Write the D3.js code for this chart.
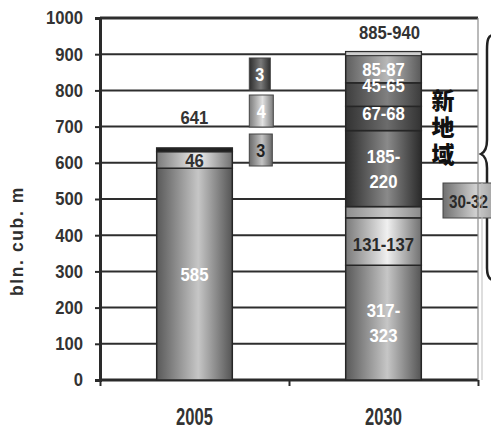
<!DOCTYPE html>
<html>
<head>
<meta charset="utf-8">
<script src="https://cdn.jsdelivr.net/npm/d3@7"></script>
<style>
  html, body { margin: 0; padding: 0; background: #fff; }
  svg { display: block; }
  text { font-family: "Liberation Sans", Arial, sans-serif; font-weight: bold; }
</style>
</head>
<body>
<script>
// Gas volumes, bln. cub. m — stacked by source
const categories = ["2005", "2030"];
const yTicks = [0, 100, 200, 300, 400, 500, 600, 700, 800, 900, 1000];

// 2005 stack, bottom to top
const values2005 = [585, 46, 10];
const labels2005 = ["585", "46", ""];
// 2030 stack, bottom to top (ranges drawn at a value inside each range)
const values2030 = [317, 131, 31, 210, 67, 65, 86];
const labels2030 = ["317-\n323", "131-137", "", "185-\n220", "67-68", "45-65", "85-87"];

const totals = ["641", "885-940"];
// breakdown of the dark 2005 cap (top to bottom)
const capParts = ["3", "4", "3"];
const sideLabel = "30-32";
const regionLabel = "新地域";
const yTitle = "bln. cub. m";

const W = 491, H = 430;
const M = { left: 100, right: 478, top: 18, bottom: 380 };

const svg = d3.select("body").append("svg").attr("width", W).attr("height", H);
const defs = svg.append("defs");

function grad(id, edge, mid, edge2) {
  const g = defs.append("linearGradient").attr("id", id)
    .attr("x1", 0).attr("x2", 1).attr("y1", 0).attr("y2", 0);
  g.append("stop").attr("offset", "0%").attr("stop-color", edge);
  g.append("stop").attr("offset", "55%").attr("stop-color", mid);
  g.append("stop").attr("offset", "100%").attr("stop-color", edge2 || edge);
}
grad("gMid", "#595959", "#c6c6c6", "#555");
grad("gLight", "#7a7a7a", "#f0f0f0", "#707070");
grad("gCap", "#1c1c1c", "#2a2a2a");
grad("gBand", "#8e8e8e", "#c9c9c9", "#8a8a8a");
grad("gDark1", "#2c2c2c", "#8a8a8a", "#2a2a2a");
grad("gDark2", "#333", "#6c6c6c", "#333");
grad("gDark3", "#3e3e3e", "#808080", "#3c3c3c");
grad("gTop", "#5e5e5e", "#b8b8b8", "#5a5a5a");
grad("gBoxDark", "#2e2e2e", "#7a7a7a", "#2e2e2e");
grad("gBoxLight", "#7c7c7c", "#e2e2e2", "#7c7c7c");
grad("gBoxMid", "#6a6a6a", "#c4c4c4", "#666");
grad("gBoxSide", "#707070", "#d0d0d0", "#8a8a8a");

const fills2005 = ["url(#gMid)", "url(#gLight)", "url(#gCap)"];
const fills2030 = ["url(#gMid)", "url(#gLight)", "url(#gBand)", "url(#gDark1)", "url(#gDark2)", "url(#gDark3)", "url(#gTop)"];
const textCol2005 = ["#fff", "#333", "#fff"];
const textCol2030 = ["#fff", "#2a2a2a", "#333", "#fff", "#fff", "#fff", "#fff"];
const labelNudge2030 = [0, 3, 0, 0, -5, -9, 2];

const y = d3.scaleLinear().domain([0, 1000]).range([M.bottom, M.top]);
const x = d3.scalePoint().domain(categories).range([M.left, M.right]).padding(0.5);
const barW = x.step() * 0.4;

// condensed bold label: horizontally squeezed around its anchor point
function label(g, px, py, str, size, sx, fill, anchor) {
  return g.append("text")
    .attr("transform", `translate(${px},${py}) scale(${sx},1)`)
    .attr("dy", "0.36em").attr("text-anchor", anchor || "middle")
    .attr("fill", fill).style("font-size", size + "px").text(str);
}

// gridlines
svg.append("g").selectAll("line").data(yTicks.filter(d => d > 0)).join("line")
  .attr("x1", M.left).attr("x2", M.right)
  .attr("y1", d => y(d)).attr("y2", d => y(d))
  .attr("stroke", "#2e2e2e").attr("stroke-width", d => d === 1000 ? 3 : 2);

// y axis
const yAxis = d3.axisLeft(y).tickValues(yTicks).tickFormat(d3.format("d")).tickSize(5).tickPadding(12);
const gy = svg.append("g").attr("transform", `translate(${M.left},0)`).call(yAxis);
gy.select(".domain").attr("stroke", "#2a2a2a").attr("stroke-width", 3);
gy.selectAll(".tick line").attr("stroke", "#2a2a2a").attr("stroke-width", 2);
gy.selectAll(".tick text").attr("fill", "#333").style("font-size", "18.5px")
  .attr("x", -17 / 0.9).attr("transform", "scale(0.9,1)");

// x axis
const xEdges = d3.scaleLinear().domain([0, 2]).range([M.left, M.right]);
const gx = svg.append("g").attr("transform", `translate(0,${M.bottom})`)
  .call(d3.axisBottom(xEdges).tickValues([0, 1, 2]).tickSize(6).tickFormat(""));
gx.select(".domain").attr("stroke", "#2a2a2a").attr("stroke-width", 3).attr("d", `M${M.left},0H${M.right}`);
gx.selectAll(".tick line").attr("stroke", "#2a2a2a").attr("stroke-width", 2);
const gxl = svg.append("g");
categories.forEach(c => label(gxl, x(c), 417, c, 23, 0.72, "#333"));

// y title
svg.append("text").attr("transform", "translate(23,241) rotate(-90)")
  .attr("text-anchor", "middle").attr("fill", "#2e2e2e")
  .style("font-size", "17.5px").style("letter-spacing", "1.6px")
  .text(yTitle);

// stacked bars
function drawStack(cat, vals, labels, fills, tcols, nudges) {
  const cx = x(cat);
  let acc = 0;
  const segs = vals.map((v, i) => {
    const s = { y0: acc, y1: acc + v, label: labels[i], fill: fills[i], tc: tcols[i], dy: nudges ? nudges[i] : 0 };
    acc += v;
    return s;
  });
  const g = svg.append("g");
  g.selectAll("rect").data(segs).join("rect")
    .attr("x", cx - barW / 2).attr("width", barW)
    .attr("y", d => y(d.y1)).attr("height", d => y(d.y0) - y(d.y1))
    .attr("fill", d => d.fill).attr("stroke", "#262626").attr("stroke-width", 1.5);
  segs.forEach(d => {
    if (!d.label) return;
    const lines = d.label.split("\n");
    const cy = (y(d.y0) + y(d.y1)) / 2 + d.dy;
    const lh = 25;
    lines.forEach((ln, k) => {
      label(g, cx, cy + (k - (lines.length - 1) / 2) * lh, ln, 19, 0.88, d.tc);
    });
  });
  return { g, top: acc };
}
const s1 = drawStack("2005", values2005, labels2005, fills2005, textCol2005);
const s2 = drawStack("2030", values2030, labels2030, fills2030, textCol2030, labelNudge2030);

// highlight strip on top of the 2030 bar
s2.g.append("rect").attr("x", x("2030") - barW / 2).attr("width", barW)
  .attr("y", y(s2.top)).attr("height", 4).attr("fill", "#cfcfcf").attr("stroke", "#262626").attr("stroke-width", 1);

// totals
const tg = svg.append("g");
label(tg, x("2005"), 117, totals[0], 18.5, 0.9, "#333");
label(tg, x("2030") + 6, 32, totals[1], 18.5, 0.9, "#333");

// breakdown boxes for the 2005 cap
const boxX = x("2005") + barW / 2 + 17;
const boxes = [
  { t: capParts[0], top: 58, w: 21, fill: "url(#gBoxDark)", tc: "#fff" },
  { t: capParts[1], top: 95, w: 24, fill: "url(#gBoxLight)", tc: "#fff" },
  { t: capParts[2], top: 134, w: 23, fill: "url(#gBoxMid)", tc: "#222" }
];
const bg = svg.append("g");
boxes.forEach(b => {
  bg.append("rect").attr("x", boxX).attr("y", b.top).attr("width", b.w).attr("height", 32)
    .attr("fill", b.fill).attr("stroke", "#444").attr("stroke-width", 1);
  label(bg, boxX + b.w / 2, b.top + 16, b.t, 19, 0.85, b.tc);
});

// brace for the new-region group
svg.append("path")
  .attr("d", "M494,35 C488,35 487,40 487,50 L487,140 C487,148 485,152 481,154 C485,156 487,160 487,168 L487,268 C487,276 489,280 494,280")
  .attr("fill", "none").attr("stroke", "#222").attr("stroke-width", 2.5);

// region label, written vertically
const rg = svg.append("g");
Array.from(regionLabel).forEach((ch, i) => {
  rg.append("text").attr("x", 443).attr("y", 101 + i * 27).attr("dy", "0.36em")
    .attr("text-anchor", "middle").attr("fill", "#111")
    .style("font-family", "'Noto Sans CJK SC', sans-serif").style("font-weight", "900")
    .style("font-size", "23px").text(ch);
});

// side callout
svg.append("rect").attr("x", 443).attr("y", 183).attr("width", 60).attr("height", 35)
  .attr("fill", "url(#gBoxSide)").attr("stroke", "#444").attr("stroke-width", 1);
label(svg, 449, 201, sideLabel, 19, 0.8, "#2a2a2a", "start");

// right frame, double line drawn over the callout
svg.append("line").attr("x1", M.right).attr("x2", M.right).attr("y1", M.top).attr("y2", M.bottom)
  .attr("stroke", "#8c8c8c").attr("stroke-width", 1.2);
svg.append("line").attr("x1", M.right + 4).attr("x2", M.right + 4).attr("y1", 183).attr("y2", M.bottom)
  .attr("stroke", "#bdbdbd").attr("stroke-width", 1);
</script>
</body>
</html>
